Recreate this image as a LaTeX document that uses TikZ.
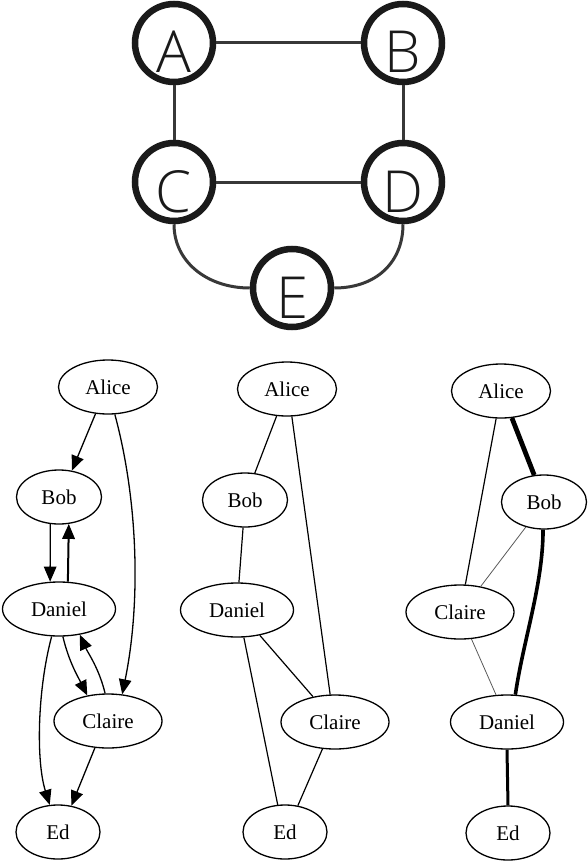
\documentclass[tikz,border=0pt]{standalone}
\usepackage{fontspec}
\setmainfont{Liberation Serif}
\newfontfamily\gvfont{Liberation Serif}
\newfontfamily\topfont{Open Sans}[UprightFont={* Light}]
\usetikzlibrary{shapes.geometric,arrows.meta}
\definecolor{ringc}{HTML}{1A1A1A}
\definecolor{edgec}{HTML}{383838}
\tikzset{
  bignode/.style={circle,draw=ringc,line width=6.5pt,fill=white,minimum size=78pt,inner sep=0pt,
    font=\topfont\fontsize{58}{58}\selectfont,text=ringc,text height=60pt,text depth=0pt},
  bigedge/.style={draw=edgec,line width=3pt},
  gv/.style={ellipse,draw=black,line width=1.3pt,inner sep=0pt,minimum height=54pt,
    font=\gvfont\fontsize{21}{21}\selectfont},
  gvA/.style={gv,minimum width=99pt},
  gvB/.style={gv,minimum width=85pt},
  gvD/.style={gv,minimum width=113pt},
  gvC/.style={gv,minimum width=108pt},
  gvE/.style={gv,minimum width=84pt},
  darr/.style={draw=black,line width=1.3pt,-{Triangle[length=15pt,width=12.5pt]}},
  uedge/.style={draw=black,line width=1.2pt},
  thickedge/.style={draw=black,line width=4.8pt},
  midedge/.style={draw=black,line width=3.6pt},
  faintedge/.style={draw=black!65,line width=0.8pt}
}
\begin{document}
\begin{tikzpicture}[x=1pt,y=-1pt]
\useasboundingbox (0,0) rectangle (588,864);
% ---------- top graph ----------
\node[bignode] (A) at (174,43) {A};
\node[bignode] (B) at (403,43) {B};
\node[bignode] (C) at (174,182) {C};
\node[bignode] (D) at (403,182) {D};
\node[bignode] (E) at (292,288) {E};
\draw[bigedge] (A) -- (B);
\draw[bigedge] (A) -- (C);
\draw[bigedge] (B) -- (D);
\draw[bigedge] (C) -- (D);
\draw[bigedge] (C.south) .. controls +(0,38) and +(-42,0) .. (E.west);
\draw[bigedge] (D.south) .. controls +(0,38) and +(42,0) .. (E.east);
% ---------- graph 1 (directed) ----------
\node[gvA] (a1) at (108,387) {Alice};
\node[gvB] (b1) at (59,497) {Bob};
\node[gvD] (d1) at (59,609) {Daniel};
\node[gvC] (c1) at (108,721) {Claire};
\node[gvE] (e1) at (58,832) {Ed};
\draw[darr] (a1.-115) -- (b1.64);
\draw[darr] (a1.-76) .. controls +(23,85) and +(19,-93) .. (c1.62);
\draw[darr] (b1.-108) -- (d1.108);
\draw[darr,line width=2pt] (d1.72) -- (b1.-70);
\draw[darr] (d1.-82) .. controls +(6,25) and +(-10,-20) .. (c1.129);
\draw[darr] (c1.96) .. controls +(-6,-25) and +(8,18) .. (d1.-51);
\draw[darr] (d1.-105) .. controls +(-14,52) and +(-14,-45) .. (e1.107);
\draw[darr] (c1.-116) -- (e1.63);
% ---------- graph 2 (undirected) ----------
\node[gvA] (a2) at (287,389) {Alice};
\node[gvB] (b2) at (245,500) {Bob};
\node[gvD] (d2) at (237,610) {Daniel};
\node[gvC] (c2) at (335,722) {Claire};
\node[gvE] (e2) at (285,832) {Ed};
\draw[uedge] (a2.-111) -- (b2.70);
\draw[uedge] (a2.-80) -- (c2.100);
\draw[uedge] (b2.-94) -- (d2.86);
\draw[uedge] (d2.-48) -- (c2.131);
\draw[uedge] (d2.-76) -- (e2.105);
\draw[uedge] (c2.-115) -- (e2.64);
% ---------- graph 3 (weighted) ----------
\node[gvA] (a3) at (501,391) {Alice};
\node[gvB] (b3) at (544,502) {Bob};
\node[gvC] (c3) at (460,612) {Claire};
\node[gvD] (d3) at (507,722) {Daniel};
\node[gvE] (e3) at (508,833) {Ed};
\draw[thickedge] (a3.-68) -- (b3.110);
\draw[uedge] (a3.-100) -- (c3.79);
\draw[faintedge] (b3.-126) -- (c3.51);
\draw[midedge] (b3.-92) .. controls +(0,55) and +(8,-55) .. (d3.73);
\draw[faintedge] (c3.-67) -- (d3.112);
\draw[midedge,line width=3pt] (d3.-90) -- (e3.90);
\end{tikzpicture}
\end{document}
